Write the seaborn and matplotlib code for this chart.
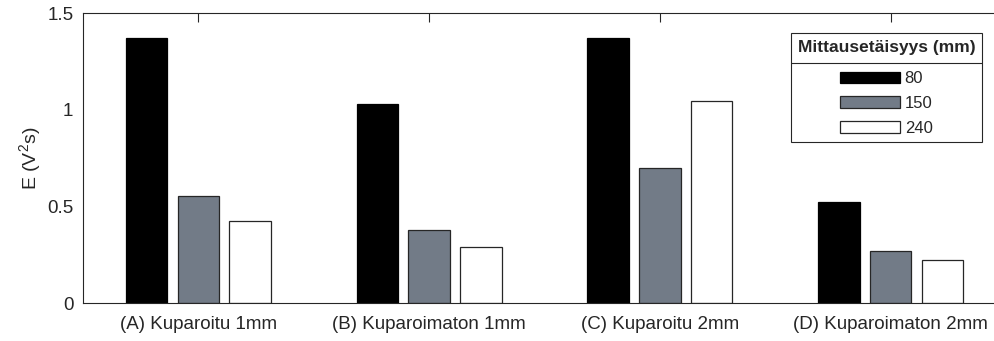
import pandas as pd
import seaborn as sns
import matplotlib.pyplot as plt
from matplotlib.lines import Line2D

# data
samples = ["(A) Kuparoitu 1mm", "(B) Kuparoimaton 1mm",
           "(C) Kuparoitu 2mm", "(D) Kuparoimaton 2mm"]
distances = ["80", "150", "240"]
e_80 = [1.371, 1.033, 1.371, 0.526]
e_150 = [0.555, 0.378, 0.700, 0.271]
e_240 = [0.424, 0.293, 1.047, 0.222]

df = pd.DataFrame({
    "sample": samples * 3,
    "distance": [d for d in distances for _ in samples],
    "E": e_80 + e_150 + e_240,
})

sns.set_style("white")
plt.rcParams["font.family"] = ["Liberation Sans", "DejaVu Sans"]
plt.rcParams["mathtext.fontset"] = "custom"
plt.rcParams["mathtext.rm"] = "Liberation Sans"

fills = ["#000000", "#6e7b8b", "#ffffff"]
edges = ["#000000", "#262626", "#262626"]
txt = "#262626"

fig = plt.figure(figsize=(9.95, 3.41), dpi=100)
ax = fig.add_axes([83 / 995, 37.7 / 341, 923 / 995, 290 / 341])

sns.barplot(data=df, x="sample", y="E", hue="distance", hue_order=distances,
            palette=fills, width=0.673, gap=0.2, ax=ax, errorbar=None)

for cont, ec in zip(ax.containers, edges):
    for bar in cont:
        bar.set_edgecolor(ec)
        bar.set_linewidth(0.9)

ax.set_xlim(-0.5, 3.5)
ax.set_ylim(0, 1.5)
ax.set_yticks([0, 0.5, 1, 1.5])
ax.set_yticklabels(["0", "0.5", "1", "1.5"])
ax.set_xlabel("")
ax.set_ylabel(r"E (V$^{\mathregular{2}}$s)", fontsize=14, color=txt, labelpad=2)

for s in ["left", "bottom", "top", "right"]:
    ax.spines[s].set_visible(True)
    ax.spines[s].set_color(txt)
    ax.spines[s].set_linewidth(0.8)

ax.tick_params(direction="in", length=6.5, width=0.8, color=txt,
               labelcolor=txt, labelsize=13.5, top=True, right=True)
ax.tick_params(axis="x", pad=9)
ax.tick_params(axis="y", pad=7)

# legend
handles = [cont.patches[0] for cont in ax.containers]
if ax.legend_:
    ax.legend_.remove()
leg = ax.legend(handles, distances, title="Mittausetäisyys (mm)",
                title_fontproperties={"weight": "bold", "size": 12.5},
                fontsize=12, loc="upper right",
                bbox_to_anchor=(982 / 995, 1 - 33 / 341),
                bbox_transform=fig.transFigure, borderaxespad=0,
                handlelength=3.6, handleheight=0.7, labelspacing=0.58,
                handletextpad=0.25, borderpad=0.4, fancybox=False,
                framealpha=1, edgecolor=txt)
leg._legend_box.sep = 12
leg.get_frame().set_linewidth(0.8)
for t in leg.get_texts():
    t.set_color(txt)
leg.get_title().set_color(txt)

# separator line under legend title
fig.canvas.draw()
fb = leg.get_frame().get_window_extent()
tb = leg.get_title().get_window_extent()
hb = leg.legend_handles[0].get_window_extent()
y_sep = (tb.y0 + hb.y1) / 2
inv = fig.transFigure.inverted()
(x0, y0), (x1, _) = inv.transform([(fb.x0, y_sep), (fb.x1, y_sep)])
fig.add_artist(Line2D([x0, x1], [y0, y0], transform=fig.transFigure,
                      color=txt, linewidth=0.8))

fig.savefig("out.png", dpi=100)
